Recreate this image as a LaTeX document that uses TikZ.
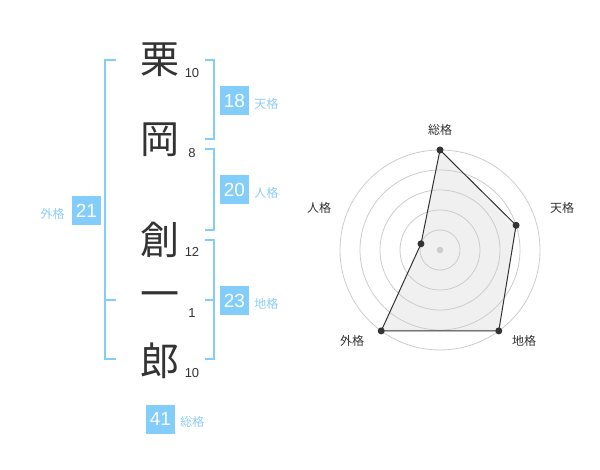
\documentclass[tikz,border=0pt]{standalone}
\usepackage{fontspec}
\setmainfont{Liberation Sans}
\newfontfamily\jp{Noto Sans CJK JP}
\definecolor{kakublue}{RGB}{130,205,250}
\definecolor{kakutext}{RGB}{140,205,245}
\definecolor{inkgrey}{RGB}{51,51,51}
\definecolor{ringgrey}{RGB}{204,204,204}
\definecolor{polyfill}{RGB}{240,240,240}
\begin{document}
\begin{tikzpicture}[x=1pt,y=-1pt,
  kanji/.style={font=\jp\fontsize{39}{39}\selectfont,text=inkgrey,inner sep=0pt},
  kakusu/.style={font=\fontsize{13}{13}\selectfont,text=inkgrey,inner sep=0pt},
  kakubox/.style={fill=kakublue,text=white,minimum size=29pt,inner sep=0pt,font=\fontsize{19}{19}\selectfont},
  kakulabel/.style={text=kakutext,font=\jp\fontsize{12}{12}\selectfont,inner sep=0pt},
  bracket/.style={draw=kakublue,line width=2pt},
  radarlabel/.style={text=inkgrey,font=\jp\fontsize{12}{12}\selectfont,inner sep=0pt}]
\useasboundingbox (0,0) rectangle (600,470);
% name
\node[kanji] (c1) at (160,60) {栗};
\node[kanji] (c2) at (160,140) {岡};
\node[kanji] (c3) at (160,240) {創};
\node[kanji] (c4) at (160,300) {一};
\node[kanji] (c5) at (160,361) {郎};
\foreach \n/\k/\y in {1/10/73,2/8/153,3/12/252,4/1/313,5/10/373}
{
\node[kakusu] (s\n) at (192,\y) {\k};
}
% brackets
\draw[bracket] (116,60)--(105,60)--(105,359)--(116,359);
\draw[bracket] (105,300)--(116,300);
\draw[bracket] (205,60)--(214,60)--(214,139)--(205,139);
\draw[bracket] (205,149)--(214,149)--(214,230)--(205,230);
\draw[bracket] (205,240)--(214,240)--(214,359)--(205,359);
\draw[bracket] (205,300)--(214,300);
% boxes
\node[kakubox] (ten) at (234.5,100.5) {18};
\node[kakubox] (jin) at (234.5,190) {20};
\node[kakubox] (chi) at (234.5,300.5) {23};
\node[kakubox] (gai) at (86.5,210.5) {21};
\node[kakubox] (sou) at (160.5,419) {41};
\node[kakulabel,anchor=west] (tenl) at ([xshift=5pt,yshift=-3pt]ten.east) {天格};
\node[kakulabel,anchor=west] (jinl) at ([xshift=5pt,yshift=-3pt]jin.east) {人格};
\node[kakulabel,anchor=west] (chil) at ([xshift=5pt,yshift=-3pt]chi.east) {地格};
\node[kakulabel,anchor=west] (soul) at ([xshift=5pt,yshift=-3pt]sou.east) {総格};
\node[kakulabel,anchor=east] (gail) at ([xshift=-7pt,yshift=-3pt]gai.west) {外格};
% radar
\begin{scope}[shift={(440,250)}]
\coordinate (o) at (0,0);
\coordinate (psou) at (-90:100);
\coordinate (pten) at (-18:80);
\coordinate (pchi) at (54:100);
\coordinate (pgai) at (126:100);
\coordinate (pjin) at (198:20);
\fill[polyfill] (psou)--(pten)--(pchi)--(pgai)--(pjin)--cycle;
\foreach \r in {20,40,...,100}
{
\draw[ringgrey,line width=0.8pt] (o) circle (\r);
}
\draw[inkgrey,line width=1pt] (psou)--(pten)--(pchi)--(pgai)--(pjin)--cycle;
\fill[ringgrey] (o) circle (3.3);
\foreach \p in {psou,pten,pchi,pgai,pjin}
{
\fill[inkgrey] (\p) circle (3.5);
}
\end{scope}
\node[radarlabel] (rsou) at (440,130) {総格};
\node[radarlabel] (rten) at (562,208) {天格};
\node[radarlabel] (rchi) at (524,341) {地格};
\node[radarlabel] (rgai) at (352,341) {外格};
\node[radarlabel] (rjin) at (319,208) {人格};
\end{tikzpicture}
\end{document}
